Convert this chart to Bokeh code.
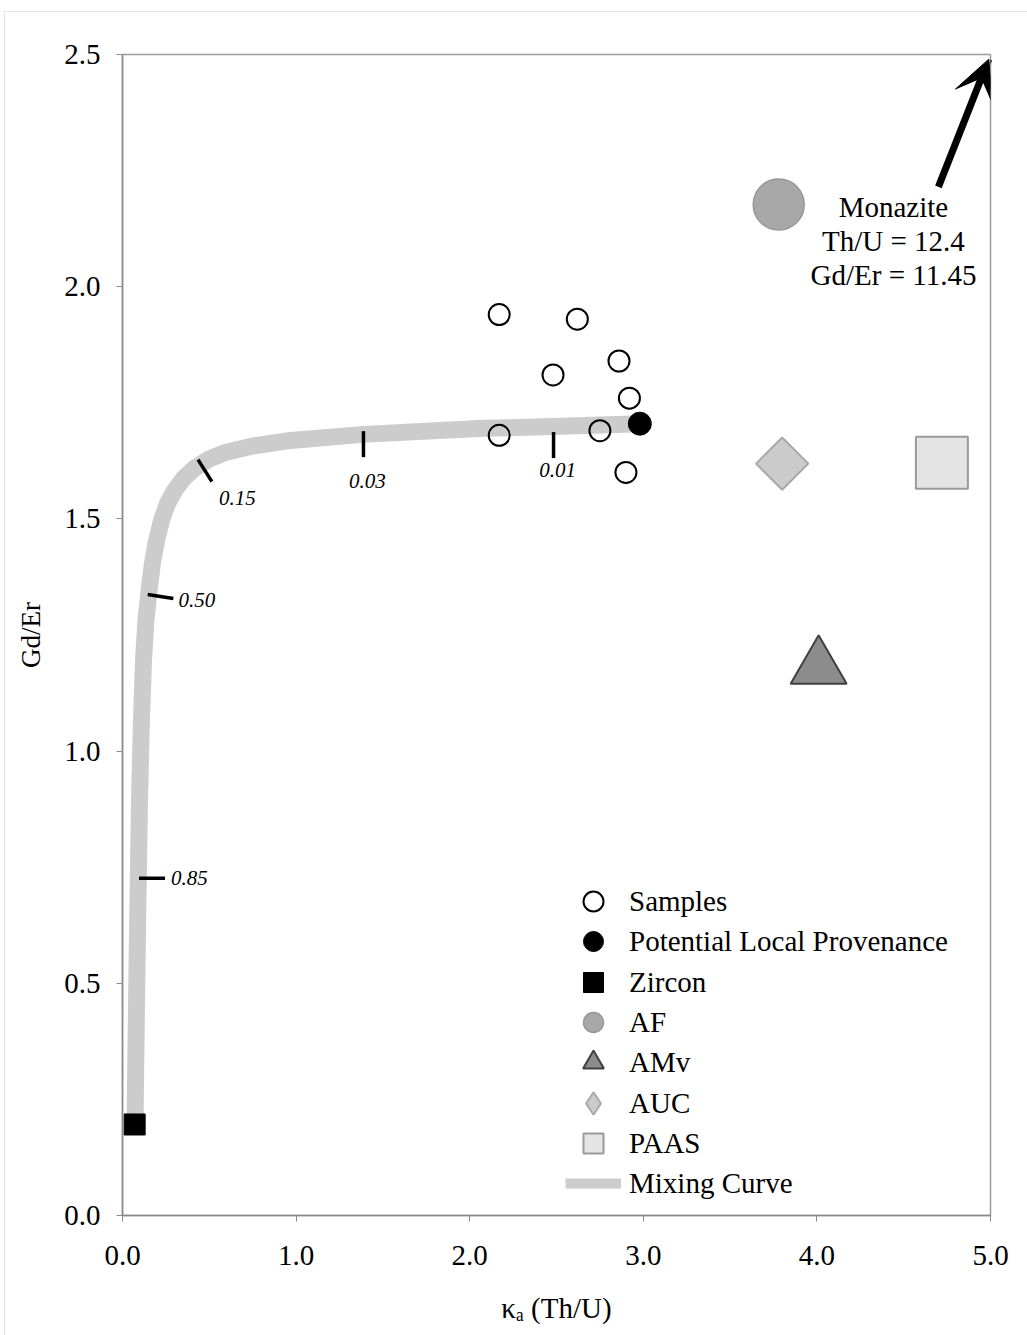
from bokeh.plotting import figure
from bokeh.models import (Range1d, Arrow, VeeHead, Legend, LegendItem,
                          FixedTicker, ColumnDataSource)
from bokeh.core.properties import value
from bokeh.embed import file_html
from bokeh.resources import INLINE

# ---- data ---------------------------------------------------------------
sample_th_u = [2.17, 2.62, 2.48, 2.86, 2.92, 2.17, 2.75, 2.90]
sample_gd_er = [1.94, 1.93, 1.81, 1.84, 1.76, 1.68, 1.69, 1.60]

local_th_u = [2.98]
local_gd_er = [1.705]

zircon_th_u = [0.07]
zircon_gd_er = [0.196]

af_th_u = [3.78]
af_gd_er = [2.177]

amv_th_u = [4.01]
amv_gd_er = [1.18]

auc_th_u = [3.80]
auc_gd_er = [1.619]

paas_th_u = [4.72]
paas_gd_er = [1.621]

# zircon -> local provenance mixing curve
curve_th_u = [0.072, 0.081, 0.089, 0.098, 0.109, 0.121, 0.135, 0.153, 0.173,
              0.196, 0.225, 0.259, 0.300, 0.351, 0.415, 0.495, 0.593, 0.737,
              0.968, 1.388, 2.080, 2.483, 2.984]
curve_gd_er = [0.196, 0.463, 0.678, 0.894, 1.066, 1.195, 1.281, 1.346, 1.406,
               1.453, 1.497, 1.533, 1.561, 1.587, 1.609, 1.628, 1.643, 1.656,
               1.669, 1.682, 1.695, 1.699, 1.705]

# zircon fraction marks along the curve
frac_labels = ["0.85", "0.50", "0.15", "0.03", "0.01"]
frac_th_u = [0.170, 0.219, 0.475, 1.388, 2.483]
frac_gd_er = [0.726, 1.333, 1.604, 1.661, 1.659]

# monazite lies far off scale
monazite_th_u = 12.4
monazite_gd_er = 11.45

x_ticks = [0.0, 1.0, 2.0, 3.0, 4.0, 5.0]
y_ticks = [0.0, 0.5, 1.0, 1.5, 2.0, 2.5]

# ---- styling ------------------------------------------------------------
SERIF = "Liberation Serif"
FS = "29px"
frac_angle_deg = [0, -9, -58, 90, 90]
frac_dx = [19, 18, 14, 4, 4]
frac_dy = [0, 4, 27, 37, 25]
frac_align = ["left", "left", "left", "center", "center"]

p = figure(width=1023, height=1324,
           x_range=Range1d(0, 5), y_range=Range1d(0, 2.5),
           output_backend="svg", toolbar_location=None,
           min_border_left=117, min_border_right=38,
           min_border_top=42, min_border_bottom=121)
p.margin = (11, 0, 0, 4)
p.styles = {"border-left": "1px solid #e4e4e4", "border-top": "1px solid #e4e4e4"}
p.background_fill_color = "white"
p.border_fill_color = "white"
p.xgrid.visible = False
p.ygrid.visible = False
p.outline_line_color = "#9c9c9c"
p.outline_line_width = 1.5

for ax in (p.xaxis[0], p.yaxis[0]):
    ax.axis_line_color = "#8a8a8a"
    ax.axis_line_width = 1.5
    ax.major_tick_line_color = "#8a8a8a"
    ax.major_tick_out = 6
    ax.major_tick_in = 0
    ax.minor_tick_line_color = None
    ax.major_label_text_font = SERIF
    ax.major_label_text_font_size = FS
    ax.major_label_text_color = "black"
    ax.axis_label_text_font = SERIF
    ax.axis_label_text_font_style = "normal"
    ax.axis_label_text_color = "black"

p.xaxis.major_label_standoff = 24
p.yaxis.major_label_standoff = 16
p.xaxis.ticker = FixedTicker(ticks=x_ticks)
p.yaxis.ticker = FixedTicker(ticks=y_ticks)
p.xaxis.major_label_overrides = {t: f"{t:.1f}" for t in x_ticks}
p.yaxis.major_label_overrides = {t: f"{t:.1f}" for t in y_ticks}

p.yaxis.axis_label = "Gd/Er"
p.yaxis.axis_label_text_font_size = "27px"
p.yaxis.axis_label_standoff = 15

p.xaxis.axis_label = "κₐ (Th/U)"
p.xaxis.axis_label_text_font_size = "29px"
p.xaxis.axis_label_standoff = 24

# ---- mixing curve -------------------------------------------------------
p.line(curve_th_u, curve_gd_er, line_width=17, line_color="#cccccc",
       line_join="round", line_cap="butt")
r_mix_key = p.line(curve_th_u, curve_gd_er, line_width=10, line_color="#cccccc",
                   visible=False)

p.scatter(frac_th_u, frac_gd_er, marker="dash", size=26,
          angle=frac_angle_deg, angle_units="deg",
          line_color="black", line_width=3.5)
frac_src = ColumnDataSource(dict(x=frac_th_u, y=frac_gd_er, t=frac_labels,
                                 dx=frac_dx, dy=frac_dy, al=frac_align))
p.text("x", "y", text="t", x_offset="dx", y_offset="dy", text_align="al",
       text_baseline="middle", source=frac_src,
       text_font=value(SERIF), text_font_style="italic",
       text_font_size="21px", text_color="black")

# ---- points -------------------------------------------------------------
r_af = p.scatter(af_th_u, af_gd_er, marker="circle", size=51,
                 fill_color="#a8a8a8", line_color="#979797", line_width=1.5)
r_amv = p.scatter(amv_th_u, amv_gd_er, marker="triangle", size=56,
                  fill_color="#8c8c8c", line_color="#404040", line_width=2)
r_auc = p.scatter(auc_th_u, auc_gd_er, marker="square", size=37, angle=45,
                  angle_units="deg",
                  fill_color="#cbcbcb", line_color="#a8a8a8", line_width=2)
# the legend draws markers unrotated, so its AUC key uses a diamond marker
r_auc_key = p.scatter(auc_th_u, auc_gd_er, marker="diamond", size=37,
                      fill_color="#cbcbcb", line_color="#a8a8a8", line_width=2,
                      visible=False)
r_paas = p.scatter(paas_th_u, paas_gd_er, marker="square", size=52,
                   fill_color="#e4e4e4", line_color="#9a9a9a", line_width=2)
r_zircon = p.scatter(zircon_th_u, zircon_gd_er, marker="square", size=21,
                     fill_color="black", line_color="black")
r_samples = p.scatter(sample_th_u, sample_gd_er, marker="circle", size=21,
                      fill_color=None, line_color="black", line_width=2)
r_local = p.scatter(local_th_u, local_gd_er, marker="circle", size=23,
                    fill_color="black", line_color="black")

# ---- monazite pointer ---------------------------------------------------
tip_x = min(monazite_th_u, 4.99)
tip_y = min(monazite_gd_er, 2.49)
p.add_layout(Arrow(end=VeeHead(size=40, fill_color="black", line_color="black"),
                   x_start=4.70, y_start=2.215, x_end=tip_x, y_end=tip_y,
                   line_color="black", line_width=7))
p.text([4.441], [2.099],
       text=[f"Monazite\nTh/U = {monazite_th_u}\nGd/Er = {monazite_gd_er}"],
       text_align="center", text_baseline="middle", text_line_height=1.06,
       text_font=value(SERIF), text_font_size=FS, text_color="black")

# ---- legend: one single-entry legend per row for tight row spacing ------
legend_entries = [
    ("Samples", r_samples, 50),
    ("Potential Local Provenance", r_local, 50),
    ("Zircon", r_zircon, 50),
    ("AF", r_af, 50),
    ("AMv", r_amv, 52),
    ("AUC", r_auc_key, 56),
    ("PAAS", r_paas, 50),
    ("Mixing Curve", r_mix_key, 50),
]
ROW0 = 314.0   # first row centre above the frame bottom, px
ROW_STEP = 40.3
for i, (name, rend, gh) in enumerate(legend_entries):
    centre = ROW0 - ROW_STEP * i
    p.add_layout(Legend(
        items=[LegendItem(label=name, renderers=[rend])],
        location=(443, int(round(centre - gh / 2))),
        glyph_width=56, glyph_height=gh, label_height=gh,
        label_standoff=8, padding=0, margin=0, spacing=0,
        border_line_color=None, background_fill_alpha=0,
        label_text_font=SERIF, label_text_font_size=FS,
        label_text_color="black"))

open("out.html", "w").write(file_html(p, INLINE))
